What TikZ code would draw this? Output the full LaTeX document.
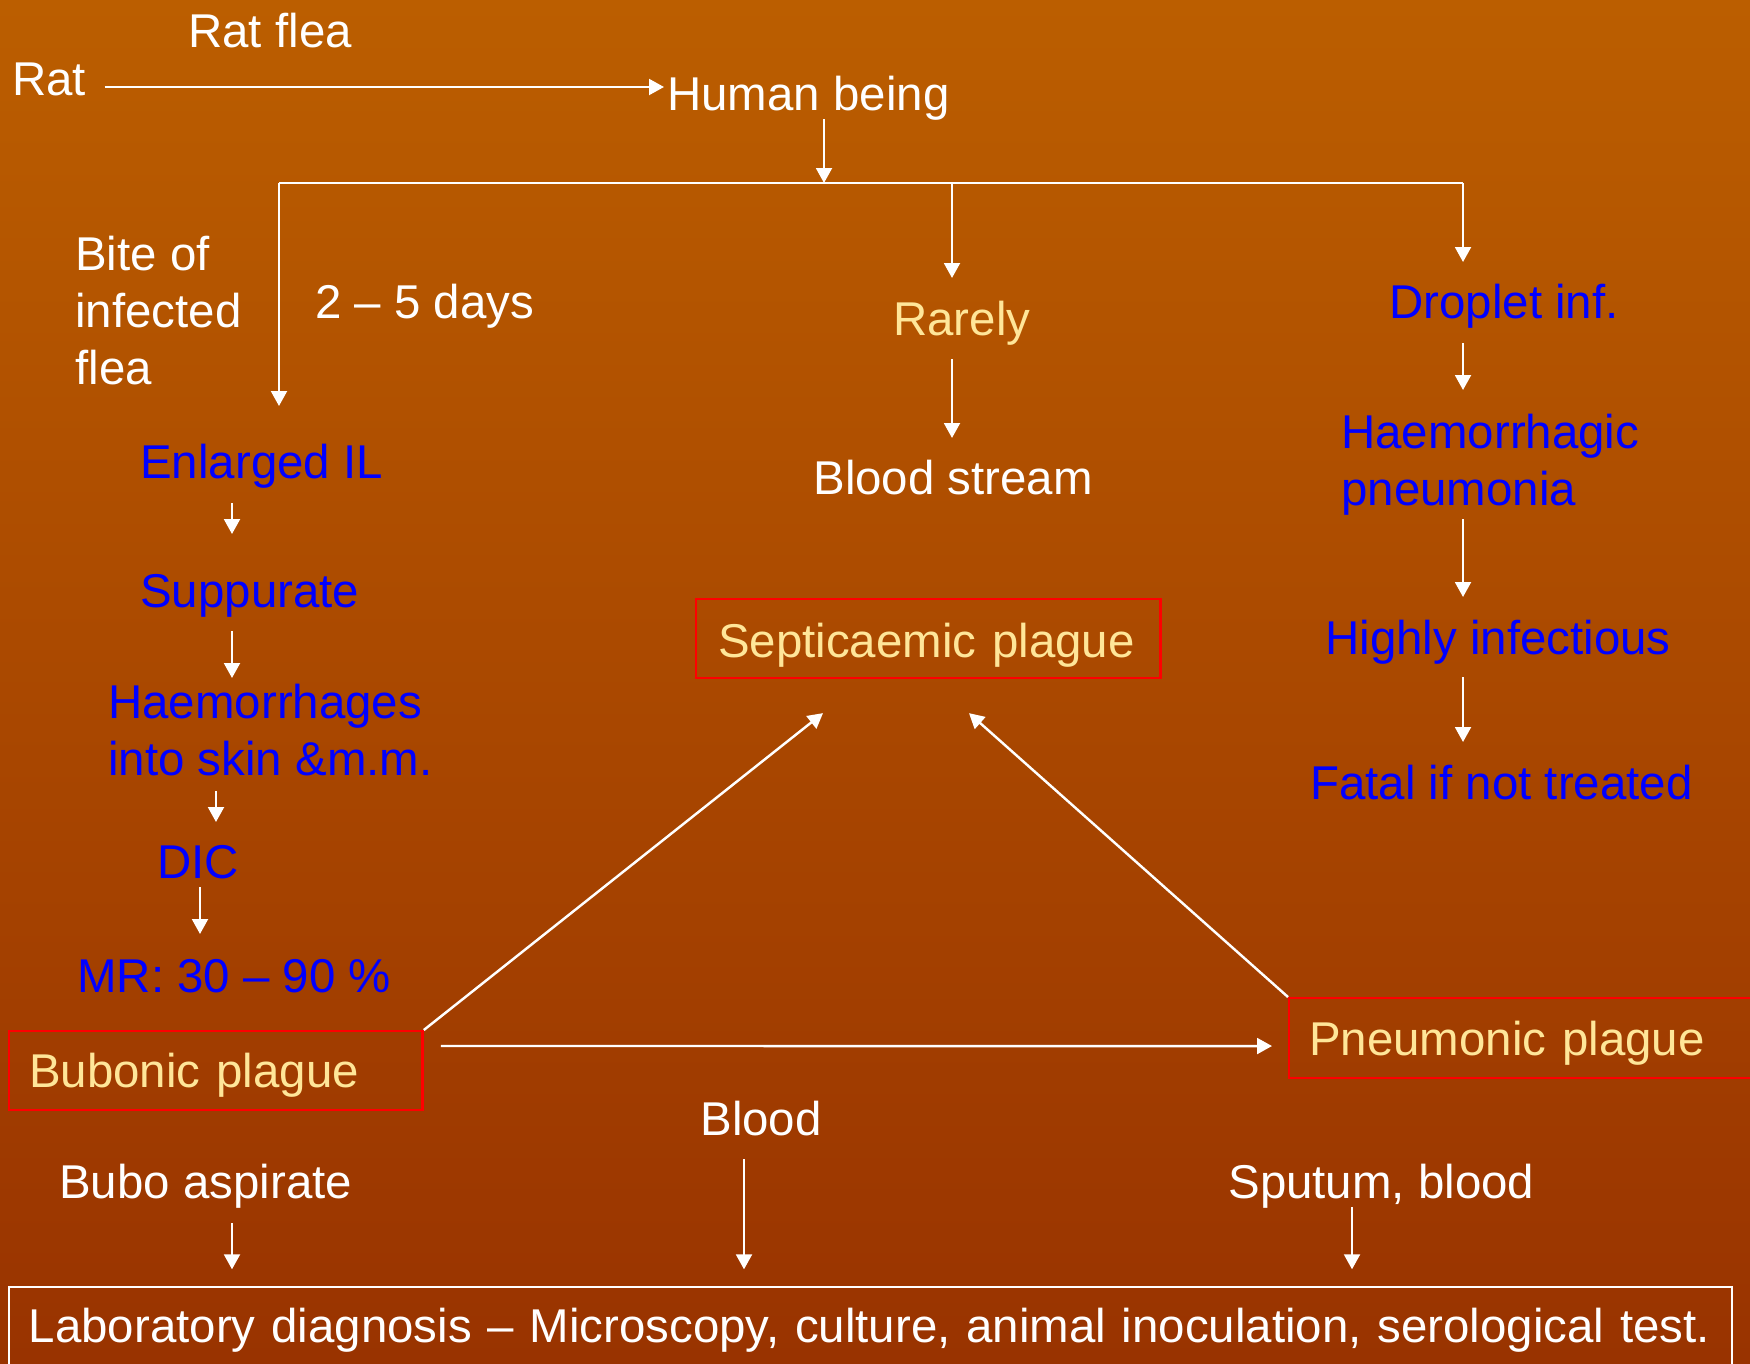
\documentclass[tikz,border=0pt]{standalone}
\usepackage{fontspec}
\setmainfont{Liberation Sans}
\usetikzlibrary{arrows.meta,calc}
\definecolor{bgtop}{RGB}{187,94,0}
\definecolor{bgbot}{RGB}{153,51,0}
\definecolor{plaguetxt}{RGB}{255,230,153}
\definecolor{steptxt}{RGB}{0,0,255}

\begin{document}
\begin{tikzpicture}[x=0.02cm, y=-0.02cm, >={Triangle[width=9pt,length=8.5pt]},
    txt/.style={inner sep=0pt, font=\fontsize{27}{32.5}\selectfont, text=white, anchor=base west},
    blk/.style={txt, align=left, anchor=north west},
    wire/.style={white, line width=1.4pt},
    arr/.style={wire, ->},
    plague/.style={txt, draw=red, line width=1.4pt, text=plaguetxt, inner xsep=11.34pt, inner ysep=0pt, align=left}]
    \shade[top color=bgtop, bottom color=bgbot] (0,0) rectangle (1750,1363);
    \path[use as bounding box] (0,0) rectangle (1750,1363);
    \clip (0,0) rectangle (1750,1363);

    \node[txt] (rat) at (12,95) {Rat};
    \node[txt] (ratflea) at (188,47) {Rat flea};
    \node[txt] (hum) at (667,110) {Human being};
    \node[blk] (bite) at (75,236) {Bite of\\infected\\flea};
    \node[txt] (days) at (315,318) {2 -- 5 days};
    \node[txt, text=plaguetxt] (rarely) at (893,335) {Rarely};
    \node[txt] (bstream) at (813,494) {Blood stream};
    \node[txt, text=steptxt] (drop) at (1389,318) {Droplet inf.};
    \node[blk, text=steptxt] (hpn) at (1341,414) {Haemorrhagic\\pneumonia};
    \node[txt, text=steptxt] (highly) at (1325,654) {Highly infectious};
    \node[txt, text=steptxt] (fatal) at (1310,799) {Fatal if not treated};
    \node[txt, text=steptxt] (enl) at (140,478) {Enlarged IL};
    \node[txt, text=steptxt] (supp) at (140,607) {Suppurate};
    \node[blk, text=steptxt] (haem) at (108,684) {Haemorrhages\\into skin \&m.m.};
    \node[txt, text=steptxt] (dic) at (157,878) {DIC};
    \node[txt, text=steptxt] (mr) at (77,992) {MR: 30 -- 90 \%};

    \node[plague, text height=31.75pt, text depth=13.04pt, text width=212.6pt] (bub) at (8,1087) {Bubonic plague};
    \node[plague, text height=32.88pt, text depth=11.9pt, text width=239.2pt, inner xsep=12.47pt] (sept) at (695,657) {Septicaemic plague};
    \node[plague, text height=32.3pt, text depth=13.04pt, text width=250.6pt] (pneu) at (1288,1055) {Pneumonic plague};

    \node[txt] (blood) at (700,1135) {Blood};
    \node[txt] (bubo) at (59,1198) {Bubo aspirate};
    \node[txt] (sputum) at (1228,1198) {Sputum, blood};
    \node[plague, draw=white, line width=1pt, text=white, text height=31.2pt, text depth=14.74pt, text width=958.1pt] (lab) at (8,1342) {\mbox{Laboratory diagnosis -- Microscopy, culture, animal inoculation, serological test.}};

    \coordinate (jl) at (279,183);
    \coordinate (jc) at (824,183);
    \coordinate (jm) at (952,183);
    \coordinate (jr) at (1463,183);

    \draw[arr] ($(rat.base east)+(18,-8)$) -- ($(hum.base west)+(-3,-23)$);
    \draw[arr] ($(hum.base west)+(157,9)$) -- (jc);
    \draw[wire] (jl) -- (jr);
    \draw[arr] (jl) -- ($(enl.base west)+(139,-72)$);
    \draw[arr] (jm) -- ($(rarely.base west)+(59,-57)$);
    \draw[arr] (jr) -- ($(drop.base west)+(74,-56)$);
    \draw[arr] ($(rarely.base west)+(59,24)$) -- ($(bstream.base west)+(139,-56)$);
    \draw[arr] ($(drop.base west)+(74,25)$) -- ($(hpn.north west)+(122,-24)$);
    \draw[arr] ($(hpn.north west)+(122,105)$) -- ($(highly.base west)+(138,-57)$);
    \draw[arr] ($(highly.base west)+(138,23)$) -- ($(fatal.base west)+(153,-57)$);
    \draw[arr] ($(enl.base west)+(92,25)$) -- ($(supp.base west)+(92,-73)$);
    \draw[arr] ($(supp.base west)+(92,24)$) -- ($(haem.north west)+(124,-6)$);
    \draw[arr] ($(haem.north west)+(108,107)$) -- ($(dic.base west)+(59,-56)$);
    \draw[arr] ($(dic.base west)+(43,9)$) -- ($(mr.base west)+(123,-58)$);
    \draw[arr] (bub.north east) -- ($(sept.south west)+(128,34)$);
    \draw[arr] (pneu.north west) -- ($(sept.south west)+(274,34)$);
    \draw[arr] ($(bub.north east)+(17,16)$) -- ($(pneu.north west)+(-16,49)$);
    \draw[arr] ($(blood.base west)+(44,24)$) -- ($(lab.north west)+(736,-17)$);
    \draw[arr] ($(bubo.base west)+(173,25)$) -- ($(lab.north west)+(224,-17)$);
    \draw[arr] ($(sputum.base west)+(124,9)$) -- ($(lab.north west)+(1344,-17)$);
\end{tikzpicture}
\end{document}
